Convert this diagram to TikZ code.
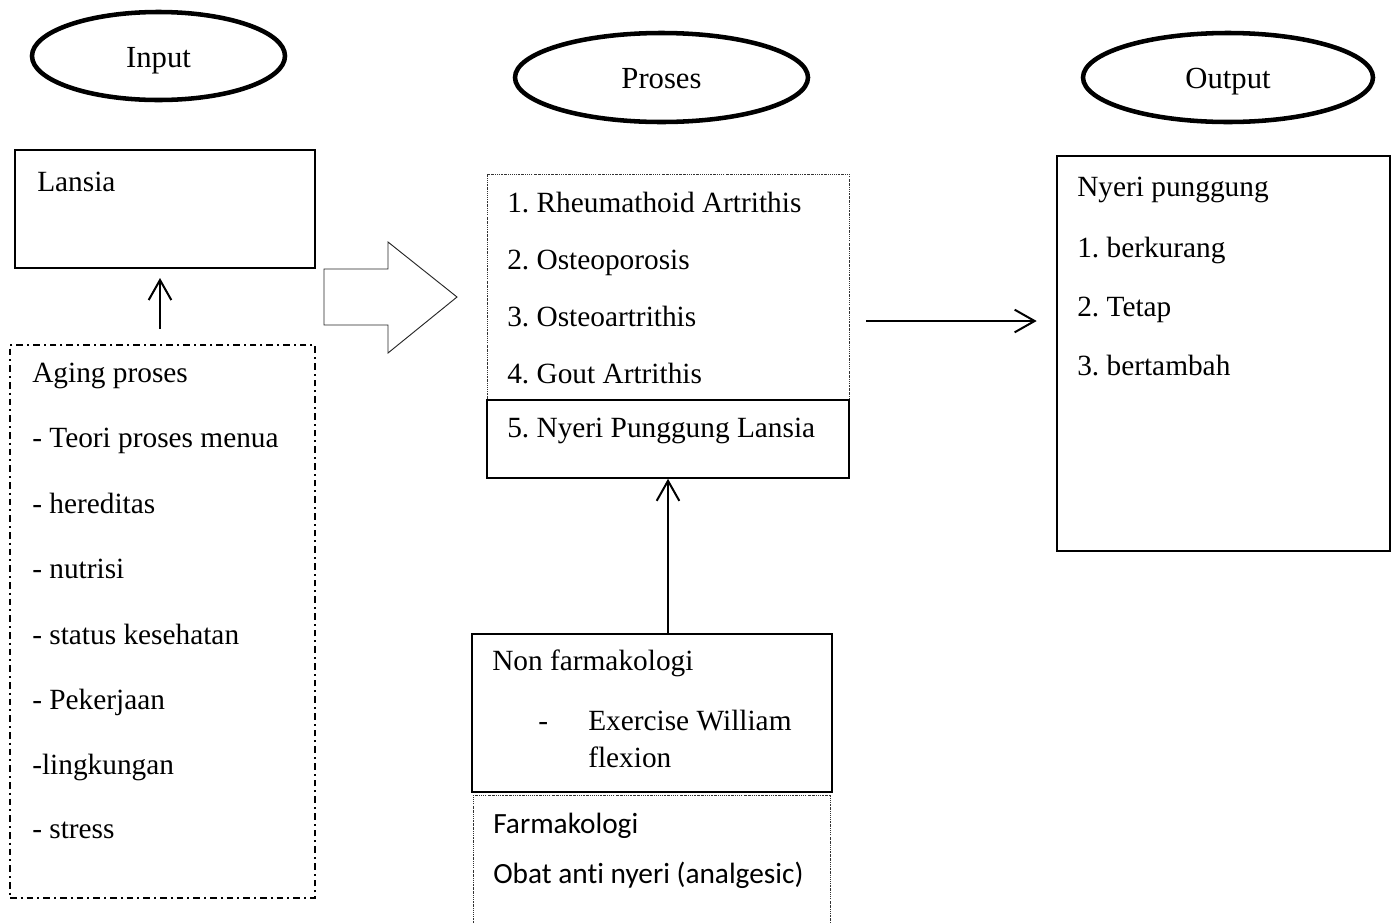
\documentclass[tikz,border=0pt]{standalone}
\usepackage{fontspec}
\setmainfont{Liberation Serif}
\newfontfamily\calibri[Ligatures=NoCommon]{Carlito}
\usetikzlibrary{arrows.meta,fit,shapes.geometric,calc}
\frenchspacing
\begin{document}
\begin{tikzpicture}[x=0.75pt,y=-0.75pt,
  tf/.style={font=\frenchspacing\fontsize{22pt}{26pt}\selectfont},
  txt/.style={tf,anchor=base west,inner sep=0pt},
  ctxt/.style={font=\calibri\fontsize{22pt}{26pt}\selectfont,anchor=base west,inner sep=0pt},
  oval/.style={ellipse,draw,line width=3.4pt,inner sep=0pt,text height=16.5pt,text depth=0pt,font=\fontsize{23pt}{26pt}\selectfont},
  solidbox/.style={draw,line width=1.2pt,inner sep=0pt},
  dotbox/.style={draw,black!80,line width=0.6pt,inner sep=0pt,dash pattern=on 1.2pt off 0.8pt on 0.4pt off 0.8pt},
  dashdotbox/.style={draw,line width=1.4pt,inner sep=0pt,dash pattern=on 5pt off 3pt on 1.5pt off 3pt},
  arr/.style={line width=1.5pt,-{Straight Barb[length=15pt,width=17pt,line width=1.5pt]}}
]
\useasboundingbox (0,0) rectangle (1395,922);

% ovals
\node[oval,minimum width=189.75pt,minimum height=66pt] (input) at (158.5,56) {Input};
\node[oval,minimum width=219.75pt,minimum height=66.75pt] (proses) at (661.5,77.5) {Proses};
\node[oval,minimum width=217.5pt,minimum height=66.75pt] (output) at (1228,77.5) {Output};

% input column
\node[solidbox,line width=1.5pt,fit={(15,150) (315,268)}] (lansia) {};
\node[txt] (tlansia) at (37,191) {Lansia};
\node[dashdotbox,fit={(10,345) (315,898)}] (agebox) {};
\node[txt] (a1) at (32,382) {Aging proses};
\node[txt] (a2) at (32,447.5) {- Teori proses menua};
\node[txt] (a3) at (32,513) {- hereditas};
\node[txt] (a4) at (32,578.5) {- nutrisi};
\node[txt] (a5) at (32,644) {- status kesehatan};
\node[txt] (a6) at (32,709) {- Pekerjaan};
\node[txt] (a7) at (32,774) {-lingkungan};
\node[txt] (a8) at (32,838.5) {- stress};
\draw[arr] ([yshift=11.25pt]agebox.north -| 160,0) -- ([yshift=-6.75pt]lansia.south -| 160,0);

% block arrow
\draw[line width=0.7pt,black!85] (324,269) -- (388,269) -- (388,242) -- (457,297) -- (388,353) -- (388,325) -- (324,325) -- cycle;

% process column
\node[dotbox,fit={(487,174) (849,400)}] (plist) {};
\node[solidbox,fit={(487,400) (849,478)}] (box5) {};
\node[txt] (p1) at (507,212) {1. Rheumathoid Artrithis};
\node[txt] (p2) at (507,269) {2. Osteoporosis};
\node[txt] (p3) at (507,326) {3. Osteoartrithis};
\node[txt] (p4) at (507,383) {4. Gout Artrithis};
\node[txt] (p5) at (507,437) {5. Nyeri Punggung Lansia};

\node[solidbox,fit={(472,634) (832,792)}] (nonfarm) {};
\node[txt] (n1) at (492,670) {Non farmakologi};
\node[txt] (n2) at (538,730) {-};
\node[txt] (n3) at (588,730) {Exercise William};
\node[txt] (n4) at (588,767) {flexion};
\node[dotbox,fit={(473,795) (830,935)}] (farm) {};
\node[ctxt] (f1) at (493,833) {Farmakologi};
\node[ctxt] (f2) at (493,883) {Obat anti nyeri (analgesic)};
\draw[arr] (box5.south |- nonfarm.north) -- (box5.south);

% output column
\node[solidbox,line width=2pt,fit={(1057,156) (1390,551)}] (outbox) {};
\node[txt] (o1) at (1077,196) {Nyeri punggung};
\node[txt] (o2) at (1077,257) {1. berkurang};
\node[txt] (o3) at (1077,316) {2. Tetap};
\node[txt] (o4) at (1077,375) {3. bertambah};
\draw[arr] ($(plist.east)+(17,34)$) -- ($(plist.east -| outbox.west)+(-19,34)$);
\end{tikzpicture}
\end{document}
